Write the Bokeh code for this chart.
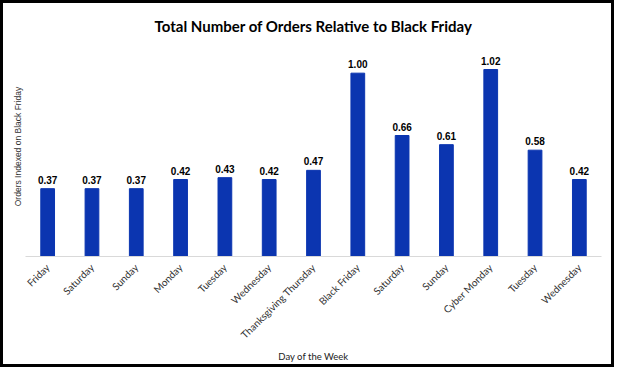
from bokeh.plotting import figure
from bokeh.layouts import column
from bokeh.models import ColumnDataSource, FixedTicker, Range1d, LabelSet
from bokeh.core.properties import value
from bokeh.embed import file_html
from bokeh.resources import INLINE

days = ["Friday", "Saturday", "Sunday", "Monday", "Tuesday", "Wednesday",
        "Thanksgiving Thursday", "Black Friday", "Saturday", "Sunday",
        "Cyber Monday", "Tuesday", "Wednesday"]
orders_index = [0.37, 0.37, 0.37, 0.42, 0.43, 0.42, 0.47, 1.00, 0.66, 0.61, 1.02, 0.58, 0.42]

positions = list(range(len(days)))
source = ColumnDataSource(dict(
    x=positions,
    y=orders_index,
    label=[f"{v:.2f}" for v in orders_index],
))

p = figure(width=608, height=361, output_backend="svg", toolbar_location=None,
           x_range=Range1d(-0.5, len(days) - 0.5), y_range=Range1d(0, 1.2),
           title="Total Number of Orders Relative to Black Friday",
           min_border_left=22, min_border_right=10, min_border_top=33, min_border_bottom=10)

p.vbar(x="x", top="y", width=0.31, source=source, color="#0B35B0")

labels = LabelSet(x="x", y="y", text="label", source=source, text_align="center",
                  y_offset=5, text_font=value("Liberation Sans"), text_font_style="bold",
                  text_font_size="10px", text_color="black")
p.add_layout(labels)

p.title.align = "center"
p.title.text_font = "Lato"
p.title.text_font_size = "15px"
p.title.text_font_style = "bold"
p.title.text_color = "black"
p.title.offset = 0
p.title.standoff = 4

p.xgrid.grid_line_color = None
p.ygrid.grid_line_color = None
p.outline_line_color = None

p.xaxis.ticker = FixedTicker(ticks=positions)
p.xaxis.major_label_overrides = {i: d for i, d in enumerate(days)}
p.xaxis.major_label_orientation = 0.785398
p.xaxis.major_label_text_font = "Lato"
p.xaxis.major_label_text_font_size = "10px"
p.xaxis.major_label_text_color = "#333333"
p.xaxis.major_label_standoff = 3
p.xaxis.major_tick_line_color = None
p.xaxis.minor_tick_line_color = None
p.xaxis.axis_line_color = "#D9D9D9"
p.xaxis.axis_label = "Day of the Week"
p.xaxis.axis_label_text_font = "Lato"
p.xaxis.axis_label_text_font_size = "9.5px"
p.xaxis.axis_label_text_font_style = "normal"
p.xaxis.axis_label_text_color = "#222222"
p.xaxis.axis_label_standoff = 3

p.yaxis.ticker = FixedTicker(ticks=[])
p.yaxis.axis_line_color = None
p.yaxis.major_tick_line_color = None
p.yaxis.minor_tick_line_color = None
p.yaxis.axis_label = "Orders Indexed on Black Friday"
p.yaxis.axis_label_text_font = "Liberation Sans"
p.yaxis.axis_label_text_font_size = "8.5px"
p.yaxis.axis_label_text_font_style = "normal"
p.yaxis.axis_label_text_color = "#333333"
p.yaxis.axis_label_standoff = 3

layout = column(p, styles={"border": "3px solid black"})

open("out.html", "w").write(file_html(layout, INLINE))
